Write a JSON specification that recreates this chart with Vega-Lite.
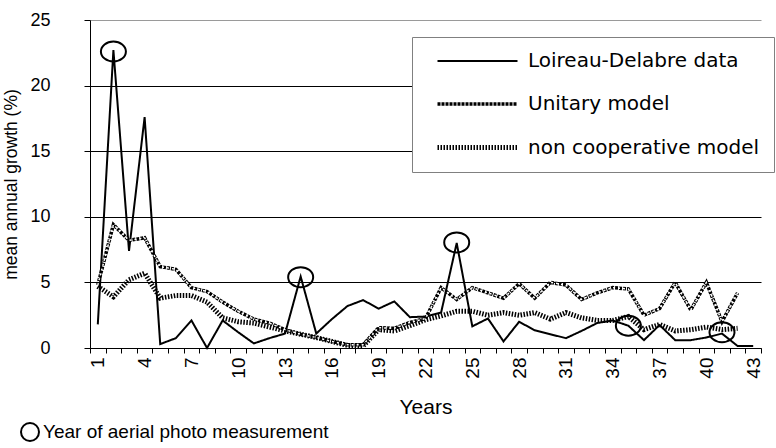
{
  "$schema": "https://vega.github.io/schema/vega-lite/v6.json",
  "width": 671,
  "height": 328,
  "autosize": "none",
  "padding": {"left": 90, "top": 20, "right": 15, "bottom": 100},
  "config": {"view": {"stroke": null}, "font": "Liberation Sans", "background": "white"},
  "datasets": {
    "series": [
      {"year": 1, "series": "Loireau-Delabre data", "value": 1.8},
      {"year": 2, "series": "Loireau-Delabre data", "value": 22.7},
      {"year": 3, "series": "Loireau-Delabre data", "value": 7.4},
      {"year": 4, "series": "Loireau-Delabre data", "value": 17.6},
      {"year": 5, "series": "Loireau-Delabre data", "value": 0.3},
      {"year": 6, "series": "Loireau-Delabre data", "value": 0.75},
      {"year": 7, "series": "Loireau-Delabre data", "value": 2.1},
      {"year": 8, "series": "Loireau-Delabre data", "value": 0.0},
      {"year": 9, "series": "Loireau-Delabre data", "value": 2.1},
      {"year": 10, "series": "Loireau-Delabre data", "value": 1.2},
      {"year": 11, "series": "Loireau-Delabre data", "value": 0.35},
      {"year": 12, "series": "Loireau-Delabre data", "value": 0.75},
      {"year": 13, "series": "Loireau-Delabre data", "value": 1.1},
      {"year": 14, "series": "Loireau-Delabre data", "value": 5.45},
      {"year": 15, "series": "Loireau-Delabre data", "value": 1.1},
      {"year": 16, "series": "Loireau-Delabre data", "value": 2.2},
      {"year": 17, "series": "Loireau-Delabre data", "value": 3.2},
      {"year": 18, "series": "Loireau-Delabre data", "value": 3.65},
      {"year": 19, "series": "Loireau-Delabre data", "value": 3.0},
      {"year": 20, "series": "Loireau-Delabre data", "value": 3.55},
      {"year": 21, "series": "Loireau-Delabre data", "value": 2.35},
      {"year": 22, "series": "Loireau-Delabre data", "value": 2.4},
      {"year": 23, "series": "Loireau-Delabre data", "value": 2.7},
      {"year": 24, "series": "Loireau-Delabre data", "value": 8.0},
      {"year": 25, "series": "Loireau-Delabre data", "value": 1.65},
      {"year": 26, "series": "Loireau-Delabre data", "value": 2.25},
      {"year": 27, "series": "Loireau-Delabre data", "value": 0.5},
      {"year": 28, "series": "Loireau-Delabre data", "value": 2.0},
      {"year": 29, "series": "Loireau-Delabre data", "value": 1.35},
      {"year": 30, "series": "Loireau-Delabre data", "value": 1.05},
      {"year": 31, "series": "Loireau-Delabre data", "value": 0.75},
      {"year": 32, "series": "Loireau-Delabre data", "value": 1.3},
      {"year": 33, "series": "Loireau-Delabre data", "value": 1.9},
      {"year": 34, "series": "Loireau-Delabre data", "value": 2.1},
      {"year": 35, "series": "Loireau-Delabre data", "value": 1.7},
      {"year": 36, "series": "Loireau-Delabre data", "value": 0.6},
      {"year": 37, "series": "Loireau-Delabre data", "value": 1.75},
      {"year": 38, "series": "Loireau-Delabre data", "value": 0.6},
      {"year": 39, "series": "Loireau-Delabre data", "value": 0.6},
      {"year": 40, "series": "Loireau-Delabre data", "value": 0.8},
      {"year": 41, "series": "Loireau-Delabre data", "value": 1.1},
      {"year": 42, "series": "Loireau-Delabre data", "value": 0.15},
      {"year": 43, "series": "Loireau-Delabre data", "value": 0.15},
      {"year": 1, "series": "Unitary model", "value": 4.8},
      {"year": 2, "series": "Unitary model", "value": 9.4},
      {"year": 3, "series": "Unitary model", "value": 8.2},
      {"year": 4, "series": "Unitary model", "value": 8.4},
      {"year": 5, "series": "Unitary model", "value": 6.2},
      {"year": 6, "series": "Unitary model", "value": 6.0},
      {"year": 7, "series": "Unitary model", "value": 4.6},
      {"year": 8, "series": "Unitary model", "value": 4.3},
      {"year": 9, "series": "Unitary model", "value": 3.5},
      {"year": 10, "series": "Unitary model", "value": 2.8},
      {"year": 11, "series": "Unitary model", "value": 2.2},
      {"year": 12, "series": "Unitary model", "value": 1.9},
      {"year": 13, "series": "Unitary model", "value": 1.4},
      {"year": 14, "series": "Unitary model", "value": 1.05},
      {"year": 15, "series": "Unitary model", "value": 0.8},
      {"year": 16, "series": "Unitary model", "value": 0.5},
      {"year": 17, "series": "Unitary model", "value": 0.25},
      {"year": 18, "series": "Unitary model", "value": 0.25},
      {"year": 19, "series": "Unitary model", "value": 1.55},
      {"year": 20, "series": "Unitary model", "value": 1.5},
      {"year": 21, "series": "Unitary model", "value": 1.95},
      {"year": 22, "series": "Unitary model", "value": 2.25},
      {"year": 23, "series": "Unitary model", "value": 4.6},
      {"year": 24, "series": "Unitary model", "value": 3.7},
      {"year": 25, "series": "Unitary model", "value": 4.6},
      {"year": 26, "series": "Unitary model", "value": 4.2},
      {"year": 27, "series": "Unitary model", "value": 3.8},
      {"year": 28, "series": "Unitary model", "value": 4.9},
      {"year": 29, "series": "Unitary model", "value": 3.8},
      {"year": 30, "series": "Unitary model", "value": 5.0},
      {"year": 31, "series": "Unitary model", "value": 4.8},
      {"year": 32, "series": "Unitary model", "value": 3.7},
      {"year": 33, "series": "Unitary model", "value": 4.2},
      {"year": 34, "series": "Unitary model", "value": 4.6},
      {"year": 35, "series": "Unitary model", "value": 4.5},
      {"year": 36, "series": "Unitary model", "value": 2.5},
      {"year": 37, "series": "Unitary model", "value": 3.0},
      {"year": 38, "series": "Unitary model", "value": 5.0},
      {"year": 39, "series": "Unitary model", "value": 2.9},
      {"year": 40, "series": "Unitary model", "value": 5.0},
      {"year": 41, "series": "Unitary model", "value": 2.0},
      {"year": 42, "series": "Unitary model", "value": 4.2},
      {"year": 1, "series": "non cooperative model", "value": 4.7},
      {"year": 2, "series": "non cooperative model", "value": 3.9},
      {"year": 3, "series": "non cooperative model", "value": 5.2},
      {"year": 4, "series": "non cooperative model", "value": 5.7},
      {"year": 5, "series": "non cooperative model", "value": 3.8},
      {"year": 6, "series": "non cooperative model", "value": 4.0},
      {"year": 7, "series": "non cooperative model", "value": 4.0},
      {"year": 8, "series": "non cooperative model", "value": 3.5},
      {"year": 9, "series": "non cooperative model", "value": 2.3},
      {"year": 10, "series": "non cooperative model", "value": 2.0},
      {"year": 11, "series": "non cooperative model", "value": 1.9},
      {"year": 12, "series": "non cooperative model", "value": 1.6},
      {"year": 13, "series": "non cooperative model", "value": 1.3},
      {"year": 14, "series": "non cooperative model", "value": 1.05},
      {"year": 15, "series": "non cooperative model", "value": 0.8},
      {"year": 16, "series": "non cooperative model", "value": 0.5},
      {"year": 17, "series": "non cooperative model", "value": 0.2},
      {"year": 18, "series": "non cooperative model", "value": 0.15},
      {"year": 19, "series": "non cooperative model", "value": 1.4},
      {"year": 20, "series": "non cooperative model", "value": 1.3},
      {"year": 21, "series": "non cooperative model", "value": 1.7},
      {"year": 22, "series": "non cooperative model", "value": 2.15},
      {"year": 23, "series": "non cooperative model", "value": 2.45},
      {"year": 24, "series": "non cooperative model", "value": 2.8},
      {"year": 25, "series": "non cooperative model", "value": 2.8},
      {"year": 26, "series": "non cooperative model", "value": 2.5},
      {"year": 27, "series": "non cooperative model", "value": 2.7},
      {"year": 28, "series": "non cooperative model", "value": 2.5},
      {"year": 29, "series": "non cooperative model", "value": 2.7},
      {"year": 30, "series": "non cooperative model", "value": 2.2},
      {"year": 31, "series": "non cooperative model", "value": 2.7},
      {"year": 32, "series": "non cooperative model", "value": 2.3},
      {"year": 33, "series": "non cooperative model", "value": 2.1},
      {"year": 34, "series": "non cooperative model", "value": 2.1},
      {"year": 35, "series": "non cooperative model", "value": 2.4},
      {"year": 36, "series": "non cooperative model", "value": 1.4},
      {"year": 37, "series": "non cooperative model", "value": 1.8},
      {"year": 38, "series": "non cooperative model", "value": 1.3},
      {"year": 39, "series": "non cooperative model", "value": 1.4},
      {"year": 40, "series": "non cooperative model", "value": 1.6},
      {"year": 41, "series": "non cooperative model", "value": 1.4},
      {"year": 42, "series": "non cooperative model", "value": 1.5}
    ],
    "circles": [
      {"year": 2, "value": 22.6, "marker": "Year of aerial photo measurement"},
      {"year": 14, "value": 5.4, "marker": "Year of aerial photo measurement"},
      {"year": 24, "value": 8.05, "marker": "Year of aerial photo measurement"},
      {"year": 35, "value": 1.7, "marker": "Year of aerial photo measurement"},
      {"year": 41, "value": 1.2, "marker": "Year of aerial photo measurement"}
    ]
  },
  "encoding": {
    "x": {
      "field": "year",
      "type": "ordinal",
      "scale": {"type": "band", "paddingInner": 0, "paddingOuter": 0, "domain": [1,2,3,4,5,6,7,8,9,10,11,12,13,14,15,16,17,18,19,20,21,22,23,24,25,26,27,28,29,30,31,32,33,34,35,36,37,38,39,40,41,42,43]},
      "axis": {
        "title": "Years",
        "tickBand": "extent",
        "labelExpr": "(datum.value - 1) % 3 == 0 ? datum.label : ''",
        "labelAngle": 270,
        "labelOverlap": false,
        "labelFontSize": 19,
        "labelColor": "black",
        "labelPadding": 4,
        "tickSize": 5,
        "tickColor": "black",
        "domainColor": "black",
        "grid": false,
        "titleFontSize": 21,
        "titleFontWeight": "normal",
        "titleColor": "black",
        "titlePadding": 18
      }
    },
    "y": {
      "field": "value",
      "type": "quantitative",
      "scale": {"domain": [0, 25], "nice": false},
      "axis": {
        "title": "mean annual growth (%)",
        "values": [0, 5, 10, 15, 20, 25],
        "grid": true,
        "gridColor": {"condition": {"test": "datum.value == 25", "value": "#9a9a9a"}, "value": "black"},
        "gridOpacity": 1,
        "domainColor": "black",
        "tickColor": "black",
        "tickSize": 6,
        "labelFontSize": 18,
        "labelColor": "black",
        "labelPadding": 34,
        "titleFontSize": 17.5,
        "titleFontWeight": "normal",
        "titleColor": "black",
        "titlePadding": 9
      }
    }
  },
  "layer": [
    {
      "data": {"name": "series"},
      "mark": {"type": "line", "color": "black"},
      "encoding": {
        "detail": {"field": "series"},
        "strokeDash": {
          "field": "series",
          "type": "nominal",
          "scale": {"domain": ["Loireau-Delabre data", "Unitary model", "non cooperative model"], "range": [[1, 0], [3, 1], [1.5, 1.5]]},
          "legend": {
            "orient": "none",
            "legendX": 322,
            "legendY": 17,
            "title": null,
            "fillColor": "white",
            "strokeColor": "#808080",
            "padding": 14,
            "rowPadding": 23,
            "labelFontSize": 20,
            "labelFont": "DejaVu Sans",
            "labelColor": "black",
            "labelLimit": 400,
            "symbolType": "M -5 0 L 5 0",
            "symbolSize": 256,
            "symbolOffset": 41,
            "symbolStrokeColor": "black",
            "labelOffset": 40
          }
        },
        "strokeWidth": {
          "field": "series",
          "type": "nominal",
          "scale": {"domain": ["Loireau-Delabre data", "Unitary model", "non cooperative model"], "range": [2, 5, 3.5]},
          "legend": null
        }
      }
    },
    {
      "data": {"name": "series"},
      "transform": [{"filter": "datum.series == 'Unitary model'"}],
      "mark": {"type": "line", "color": "white", "strokeWidth": 1.5, "strokeDash": [2, 3]}
    },
    {
      "data": {"name": "circles"},
      "mark": {"type": "point", "filled": false, "shape": "M -1 0 A 1 0.8 0 1 0 1 0 A 1 0.8 0 1 0 -1 0 Z", "size": 625, "strokeWidth": 2, "opacity": 1},
      "encoding": {
        "stroke": {
          "field": "marker",
          "type": "nominal",
          "scale": {"range": ["black"]},
          "legend": {
            "orient": "none",
            "legendX": -70,
            "legendY": 402,
            "title": null,
            "symbolType": "circle",
            "symbolSize": 324,
            "symbolStrokeWidth": 2,
            "symbolFillColor": "transparent",
            "labelFontSize": 19,
            "labelColor": "black",
            "labelLimit": 500,
            "labelOffset": 3
          }
        }
      }
    }
  ]
}
